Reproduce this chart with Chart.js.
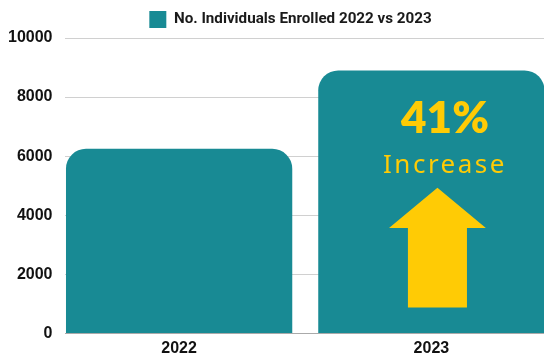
<!DOCTYPE html>
<html><head><meta charset="utf-8">
<script src="https://cdn.jsdelivr.net/npm/chart.js@4"></script>
<style>html,body{margin:0;padding:0;background:#fff;overflow:hidden}#wrap{width:544px;height:356px;position:relative}</style>
</head><body><div id="wrap"><canvas id="c"></canvas></div>
<script>
const categories = ['2022', '2023'];
const enrolled = [6250, 8900];
const yTicks = [0, 2000, 4000, 6000, 8000, 10000];
const seriesLabel = 'No. Individuals Enrolled 2022 vs 2023';
const pctText = '41%';
const pctWord = 'Increase';

const TEAL = 'rgb(24,138,148)';
const YELLOW = 'rgb(255,203,5)';

const overlay = {
  id: 'overlay',
  afterLayout(chart) {
    if (chart.legend) { chart.legend.left += 42; }
  },
  afterDatasetsDraw(chart) {
    const {ctx, scales: {x, y}} = chart;
    const cx = x.getPixelForValue(1.024);
    const headHalf = x.getPixelForValue(1.024 + 0.192) - cx;
    const shaftHalf = x.getPixelForValue(1.024 + 0.117) - cx;
    const tip = y.getPixelForValue(4930);
    const base = y.getPixelForValue(3570);
    const bottom = y.getPixelForValue(880);
    ctx.save();
    ctx.fillStyle = YELLOW;
    ctx.beginPath();
    ctx.moveTo(cx, tip);
    ctx.lineTo(cx + headHalf, base);
    ctx.lineTo(cx + shaftHalf, base);
    ctx.lineTo(cx + shaftHalf, bottom);
    ctx.lineTo(cx - shaftHalf, bottom);
    ctx.lineTo(cx - shaftHalf, base);
    ctx.lineTo(cx - headHalf, base);
    ctx.closePath();
    ctx.fill();
    const tx = x.getPixelForValue(1.05);
    ctx.textAlign = 'center';
    ctx.textBaseline = 'alphabetic';
    ctx.font = '800 44px Lato';
    ctx.fillText(pctText, tx + 1, y.getPixelForValue(6770));
    ctx.font = '400 26px "Noto Sans"';
    ctx.letterSpacing = '2.5px';
    ctx.fillText(pctWord, tx + 1, y.getPixelForValue(5440));
    ctx.restore();
  }
};

new Chart(document.getElementById('c'), {
  type: 'bar',
  data: {
    datasets: [{
      label: seriesLabel,
      data: enrolled.map((v, i) => ({x: i, y: v})),
      backgroundColor: TEAL,
      borderRadius: 20,
      borderSkipped: 'start',
      barPercentage: 0.897,
      categoryPercentage: 1
    }]
  },
  options: {
    responsive: true,
    maintainAspectRatio: false,
    animation: false,
    devicePixelRatio: 1,
    layout: {padding: {left: -5, right: 0, top: 1, bottom: -10}},
    plugins: {
      tooltip: {enabled: false},
      legend: {
        display: true,
        position: 'top',
        labels: {
          boxWidth: 17, boxHeight: 17, padding: 10,
          color: '#1a1a1a',
          font: {family: 'Roboto', size: 15.2, weight: '700'}
        }
      }
    },
    scales: {
      x: {
        type: 'linear',
        offset: false,
        bounds: 'data',
        min: -0.4504,
        max: 1.4464,
        afterBuildTicks(scale) { scale.ticks = categories.map((c, i) => ({value: i})); },
        ticks: {
          callback: (v) => categories[v],
          color: '#111',
          font: {family: '"Liberation Sans"', size: 16, weight: 'bold'},
          padding: 6,
          maxRotation: 0,
          autoSkip: false
        },
        grid: {display: false, drawTicks: false, offset: false},
        border: {display: true, color: '#aaa'}
      },
      y: {
        min: 0,
        max: 10000,
        afterBuildTicks(scale) { scale.ticks = yTicks.map(v => ({value: v})); },
        ticks: {
          callback: (v) => String(v),
          color: '#111',
          font: {family: '"Liberation Sans"', size: 16, weight: 'bold'},
          padding: 13
        },
        grid: {color: '#d0d0d0', drawTicks: false, tickLength: 0},
        border: {display: false}
      }
    }
  },
  plugins: [overlay]
});
</script>
</body></html>
